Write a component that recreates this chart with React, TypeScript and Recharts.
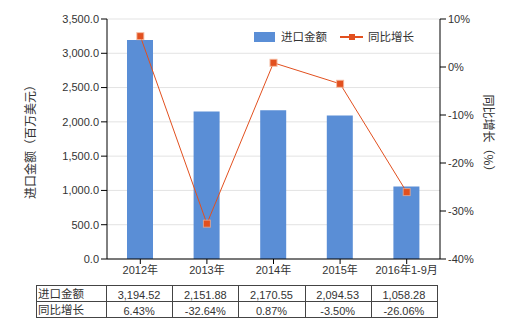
import React from 'react';
import { ComposedChart, Bar, Line, XAxis, YAxis, CartesianGrid } from 'recharts';

const categories = ['2012年', '2013年', '2014年', '2015年', '2016年1-9月'];
const importValues = [3194.52, 2151.88, 2170.55, 2094.53, 1058.28];
const growthValues = [6.43, -32.64, 0.87, -3.5, -26.06];
const leftTicks = [0, 500, 1000, 1500, 2000, 2500, 3000, 3500];
const rightTicks = [-40, -30, -20, -10, 0, 10];
const seriesNames = ['进口金额', '同比增长'];
const leftAxisTitle = '进口金额（百万美元）';
const rightAxisTitle = '同比增长（%）';

const data = categories.map((name, i) => ({ name, amount: importValues[i], growth: growthValues[i] }));

const FONT = '"Liberation Sans", "Noto Sans CJK SC", sans-serif';
const CJK_FONT = '"Noto Sans CJK SC", "Liberation Sans", sans-serif';
const BAR = '#5A8ED6';
const LINE = '#E2501F';
const TEXT = '#333';

const fmtLeft = (v: number) => v.toLocaleString('en-US', { minimumFractionDigits: 1, maximumFractionDigits: 1 });
const fmtAmt = (v: number) => v.toLocaleString('en-US', { minimumFractionDigits: 2, maximumFractionDigits: 2 });
const fmtPct = (v: number) => v.toFixed(2) + '%';

const SquareDot = (props: any) => {
  const { cx, cy } = props;
  if (cx == null || cy == null) return null;
  return (
    <g>
      <rect x={cx - 4} y={cy - 4} width={8} height={8} fill="#F2A583" opacity={0.8} />
      <rect x={cx - 3} y={cy - 3} width={6} height={6} fill={LINE} />
    </g>
  );
};

const LeftLabel = (props: any) => {
  const vb = props.viewBox || {};
  const x = (vb.x || 0) + 29;
  const y = (vb.y || 0) + (vb.height || 0) / 2;
  return (
    <text x={x} y={y} transform={`rotate(-90 ${x} ${y})`} textAnchor="middle" dominantBaseline="central" fontSize={12} fill={TEXT} fontFamily={CJK_FONT}>
      {leftAxisTitle}
    </text>
  );
};

const RightLabel = (props: any) => {
  const vb = props.viewBox || {};
  const x = (vb.x || 0) + 49;
  const y = (vb.y || 0) + (vb.height || 0) / 2 - 3;
  return (
    <text x={x} y={y} transform={`rotate(90 ${x} ${y})`} textAnchor="middle" dominantBaseline="central" fontSize={12} fill={TEXT} fontFamily={CJK_FONT}>
      {rightAxisTitle}
    </text>
  );
};

const tableLeft = 36;
const labelColW = 70;
const colW = 66.2;
const tableTop = 285;
const rowH = 16;

export default function App() {
  const tableRight = tableLeft + labelColW + colW * categories.length;
  const rows = [importValues.map(fmtAmt), growthValues.map(fmtPct)];
  return (
    <div style={{ position: 'absolute', left: 0, top: 0, width: 520, height: 330, background: '#fff' }}>
      <ComposedChart width={520} height={330} data={data} margin={{ top: 19, right: 0, bottom: 51, left: 0 }}>
        <CartesianGrid yAxisId="left" vertical={false} stroke="#e3e3e3" />
        <XAxis
          dataKey="name"
          height={20}
          interval={0}
          tick={{ fontSize: 11, fill: TEXT, fontFamily: FONT }}
          tickLine={{ stroke: '#000' }}
          axisLine={{ stroke: '#000' }}
          tickSize={5}
        />
        <YAxis
          yAxisId="left"
          width={107}
          domain={[0, 3500]}
          ticks={leftTicks}
          interval={0}
          tickFormatter={fmtLeft}
          tick={{ fontSize: 11, fill: TEXT, fontFamily: FONT }}
          tickLine={{ stroke: '#000' }}
          axisLine={{ stroke: '#000' }}
          tickSize={6}
          label={<LeftLabel />}
        />
        <YAxis
          yAxisId="right"
          orientation="right"
          width={80}
          domain={[-40, 10]}
          ticks={rightTicks}
          interval={0}
          tickFormatter={(v: number) => `${v}%`}
          tick={{ fontSize: 11, fill: TEXT, fontFamily: FONT }}
          tickLine={{ stroke: '#000' }}
          axisLine={{ stroke: '#000' }}
          tickSize={6}
          label={<RightLabel />}
        />
        <Bar yAxisId="left" dataKey="amount" fill={BAR} barSize={26} isAnimationActive={false} />
        <Line yAxisId="right" dataKey="growth" stroke={LINE} strokeWidth={1} dot={<SquareDot />} activeDot={false} isAnimationActive={false} />
      </ComposedChart>
      <svg width={520} height={330} style={{ position: 'absolute', left: 0, top: 0, pointerEvents: 'none' }} fontFamily={FONT}>
        {/* legend */}
        <rect x={254} y={32} width={21} height={10} fill={BAR} />
        <text x={281} y={37} fontSize={11.5} fill={TEXT} dominantBaseline="central">{seriesNames[0]}</text>
        <line x1={340} y1={37} x2={363} y2={37} stroke={LINE} strokeWidth={2} />
        <rect x={349} y={34} width={6} height={6} fill={LINE} />
        <text x={368} y={37} fontSize={11.5} fill={TEXT} dominantBaseline="central">{seriesNames[1]}</text>
        {/* table */}
        <rect x={tableLeft + 0.5} y={tableTop + 0.5} width={tableRight - tableLeft} height={rowH * 2} fill="none" stroke="#444" />
        <line x1={tableLeft} x2={tableRight} y1={tableTop + rowH + 0.5} y2={tableTop + rowH + 0.5} stroke="#444" />
        {categories.map((c, i) => {
          const x = Math.round(tableLeft + labelColW + colW * i) + 0.5;
          return <line key={c} x1={x} x2={x} y1={tableTop} y2={tableTop + rowH * 2} stroke="#444" />;
        })}
        {seriesNames.map((n, r) => (
          <text key={n} x={tableLeft + 2} y={tableTop + rowH * r + rowH / 2 + 0.5} fontSize={11.5} fill={TEXT} dominantBaseline="central">{n}</text>
        ))}
        {rows.map((row, r) =>
          row.map((v, i) => (
            <text key={`${r}-${i}`} x={tableLeft + labelColW + colW * i + colW / 2} y={tableTop + rowH * r + rowH / 2 + 1.5} fontSize={11} fill={TEXT} textAnchor="middle" dominantBaseline="central">{v}</text>
          ))
        )}
      </svg>
    </div>
  );
}
